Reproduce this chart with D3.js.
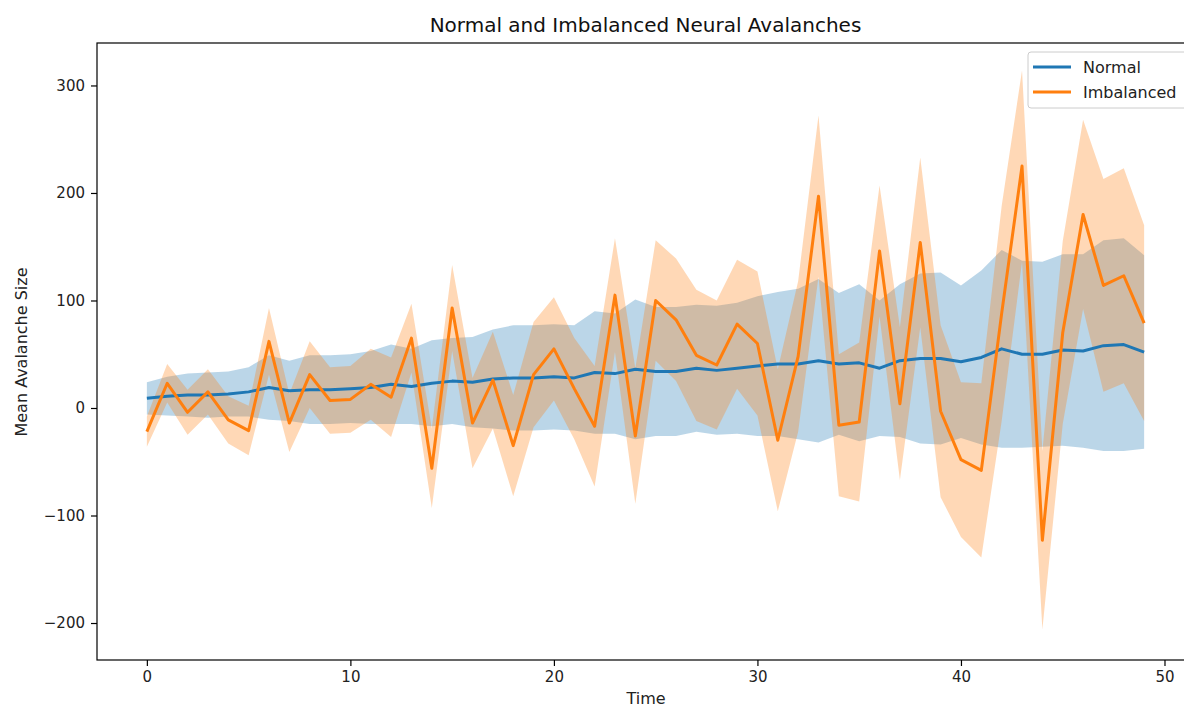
<!DOCTYPE html>
<html>
<head>
<meta charset="utf-8">
<script src="https://cdn.jsdelivr.net/npm/d3@7"></script>
<style>
    body { margin: 0; background: #fff; overflow: hidden; }
    svg { display: block; font-family: "DejaVu Sans", sans-serif; }
</style>
</head>
<body>
<div id="chart"></div>
<script>
// Data
const normalMean = [9, 11, 12, 12, 13, 15, 19, 16, 17, 17, 18, 19, 22, 20, 23, 25, 24, 27, 28, 28,
    29, 28, 33, 32, 36, 34, 34, 37, 35, 37, 39, 41, 41, 44, 41, 42, 37, 44, 46, 46,
    43, 47, 55, 50, 50, 54, 53, 58, 59, 52];
const normalStd = [15, 18, 20, 21, 21, 23, 30, 28, 32, 32, 32, 34, 37, 35, 40, 40, 42, 46, 49, 49,
    49, 49, 57, 56, 65, 60, 60, 59, 60, 61, 65, 67, 70, 76, 66, 73, 63, 71, 79, 80,
    71, 81, 92, 87, 86, 89, 90, 98, 99, 90];
const imbMean = [-22, 23, -4, 15, -11, -21, 62, -14, 31, 7, 8, 22, 10, 65, -56, 93, -14, 26, -35, 31,
    55, 18, -17, 105, -26, 100, 82, 49, 40, 78, 60, -30, 48, 197, -16, -13, 146, 4, 154, -3,
    -48, -58, 88, 225, -123, 70, 180, 114, 123, 79];
const imbStd = [14, 18, 21, 21, 22, 23, 31, 27, 31, 31, 31, 33, 37, 32, 37, 40, 42, 45, 47, 49,
    48, 47, 56, 53, 63, 56, 57, 61, 60, 60, 67, 66, 70, 75, 66, 74, 61, 71, 79, 80,
    72, 81, 100, 89, 83, 85, 88, 99, 100, 91];
const time = d3.range(normalMean.length);
const xTicks = [0, 10, 20, 30, 40, 50];
const yTicks = [-200, -100, 0, 100, 200, 300];

const width = 1184, height = 709;
// axes box; the right spine sits just past the window edge
const margin = { top: 43, right: -10, bottom: 49, left: 97 };

const svg = d3.select('#chart')
    .append('svg')
    .attr('width', width)
    .attr('height', height);

const x = d3.scaleLinear()
    .domain([-2.45, 51.45])
    .range([margin.left, width - margin.right]);

const y = d3.scaleLinear()
    .domain([-234.4, 339.5])
    .range([height - margin.bottom, margin.top]);

const fmt = d => d < 0 ? '\u2212' + Math.abs(d) : String(d);

const series = [
    { mean: normalMean, std: normalStd, color: '#1f77b4' },
    { mean: imbMean, std: imbStd, color: '#ff7f0e' }
];

// bands first, lines on top
series.forEach(s => {
    const area = d3.area()
        .x((d, i) => x(time[i]))
        .y0((d, i) => y(s.mean[i] - s.std[i]))
        .y1((d, i) => y(s.mean[i] + s.std[i]));
    svg.append('path')
        .datum(s.mean)
        .attr('d', area)
        .attr('fill', s.color)
        .attr('fill-opacity', 0.3);
});

series.forEach(s => {
    const line = d3.line()
        .x((d, i) => x(time[i]))
        .y(d => y(d));
    svg.append('path')
        .datum(s.mean)
        .attr('d', line)
        .attr('fill', 'none')
        .attr('stroke', s.color)
        .attr('stroke-width', 3)
        .attr('stroke-linejoin', 'round');
});

// frame
svg.append('rect')
    .attr('x', x.range()[0])
    .attr('y', margin.top)
    .attr('width', x.range()[1] - x.range()[0])
    .attr('height', height - margin.bottom - margin.top)
    .attr('fill', 'none')
    .attr('stroke', '#000')
    .attr('stroke-width', 1.2);

// axes
const xAxis = svg.append('g')
    .attr('transform', `translate(0,${height - margin.bottom})`)
    .call(d3.axisBottom(x).tickValues(xTicks).tickSize(6).tickPadding(5).tickFormat(fmt));
const yAxis = svg.append('g')
    .attr('transform', `translate(${margin.left},0)`)
    .call(d3.axisLeft(y).tickValues(yTicks).tickSize(6).tickPadding(6).tickFormat(fmt));

[xAxis, yAxis].forEach(g => {
    g.select('.domain').remove();
    g.selectAll('line').attr('stroke', '#000').attr('stroke-width', 1.2);
    g.selectAll('text')
        .attr('fill', '#222')
        .style('font-size', '15px')
        .style('font-family', '"DejaVu Sans", sans-serif');
});

// title and labels
svg.append('text')
    .attr('x', 645.5)
    .attr('y', 32)
    .attr('text-anchor', 'middle')
    .attr('fill', '#111')
    .style('font-size', '20px')
    .text('Normal and Imbalanced Neural Avalanches');

svg.append('text')
    .attr('x', 646)
    .attr('y', 704)
    .attr('text-anchor', 'middle')
    .attr('fill', '#222')
    .style('font-size', '16px')
    .text('Time');

svg.append('text')
    .attr('transform', 'translate(27,352) rotate(-90)')
    .attr('text-anchor', 'middle')
    .attr('fill', '#222')
    .style('font-size', '16px')
    .text('Mean Avalanche Size');

// legend
const legend = svg.append('g').attr('transform', 'translate(1028,52)');
legend.append('rect')
    .attr('width', 170)
    .attr('height', 56)
    .attr('rx', 3)
    .attr('fill', '#fff')
    .attr('fill-opacity', 0.8)
    .attr('stroke', '#ccc');

const legendItems = [
    { label: 'Normal', color: '#1f77b4' },
    { label: 'Imbalanced', color: '#ff7f0e' }
];
legendItems.forEach((d, i) => {
    const row = legend.append('g').attr('transform', `translate(0,${15 + i * 25})`);
    row.append('line')
        .attr('x1', 5).attr('x2', 43)
        .attr('stroke', d.color)
        .attr('stroke-width', 3);
    row.append('text')
        .attr('x', 55)
        .attr('dy', '0.35em')
        .attr('fill', '#222')
        .style('font-size', '16px')
        .text(d.label);
});
</script>
</body>
</html>
